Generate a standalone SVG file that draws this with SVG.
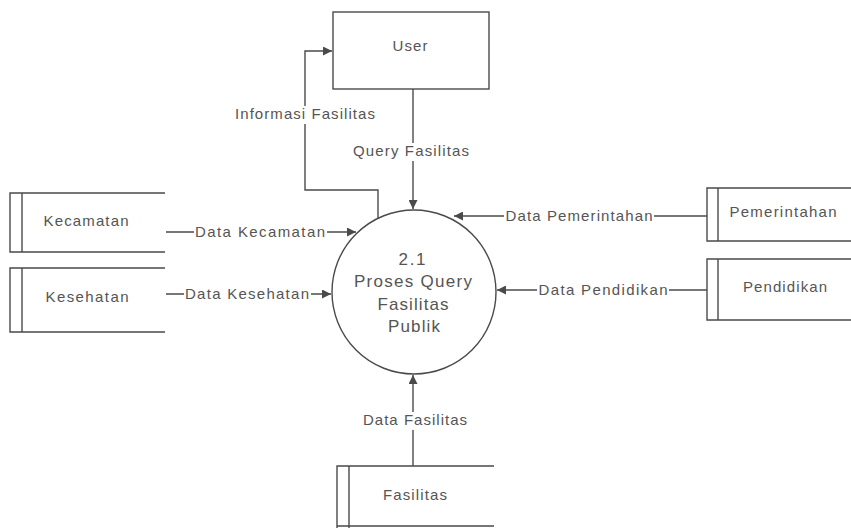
<svg xmlns="http://www.w3.org/2000/svg" width="851" height="528" viewBox="0 0 851 528">
  <defs>
    <style>
      .ln { stroke: #4a4a4a; stroke-width: 1.4; fill: none; }
      .box { stroke: #4a4a4a; stroke-width: 1.4; fill: #fff; }
      .t { font-family: "Liberation Sans", Arial, sans-serif; font-size: 15px; fill: #555; text-anchor: middle; dominant-baseline: middle; }
      .tp { font-family: "Liberation Sans", Arial, sans-serif; font-size: 17px; fill: #555; text-anchor: middle; dominant-baseline: middle; }
      .lbl { font-family: "Liberation Sans", Arial, sans-serif; font-size: 15px; fill: #555; text-anchor: middle; dominant-baseline: middle; }
    </style>
    <marker id="arr" viewBox="0 0 10 10" refX="10" refY="5" markerWidth="9" markerHeight="9" markerUnits="userSpaceOnUse" orient="auto">
      <path d="M0,0 L10,5 L0,10 z" fill="#4a4a4a"/>
    </marker>
  </defs>

  <rect width="851" height="528" fill="#fff"/>

  <!-- connectors -->
  <g id="connectors">
    <!-- Informasi Fasilitas: process -> User -->
    <path class="ln" d="M378,218 V190 H305 V51 H332" marker-end="url(#arr)"/>
    <!-- Query Fasilitas: User -> process -->
    <path class="ln" d="M413,89 V209" marker-end="url(#arr)"/>
    <!-- Data Kecamatan -->
    <path class="ln" d="M166,232 H356" marker-end="url(#arr)"/>
    <!-- Data Kesehatan -->
    <path class="ln" d="M166,294 H331" marker-end="url(#arr)"/>
    <!-- Data Pemerintahan -->
    <path class="ln" d="M707,216 H454" marker-end="url(#arr)"/>
    <!-- Data Pendidikan -->
    <path class="ln" d="M707,290 H497" marker-end="url(#arr)"/>
    <!-- Data Fasilitas -->
    <path class="ln" d="M413,466 V375" marker-end="url(#arr)"/>

    <!-- labels on connectors, with white backing to break the lines -->
    <rect x="234" y="106" width="142" height="18" fill="#fff"/>
    <text class="lbl" x="305" y="115" textLength="140" lengthAdjust="spacing">Informasi Fasilitas</text>
    <rect x="352" y="143" width="119" height="18" fill="#fff"/>
    <text class="lbl" x="411" y="152" textLength="116" lengthAdjust="spacing">Query Fasilitas</text>
    <rect x="194" y="224" width="133" height="18" fill="#fff"/>
    <text class="lbl" x="260" y="233" textLength="130" lengthAdjust="spacing">Data Kecamatan</text>
    <rect x="184" y="286" width="127" height="18" fill="#fff"/>
    <text class="lbl" x="247" y="295" textLength="124" lengthAdjust="spacing">Data Kesehatan</text>
    <rect x="504" y="208" width="150" height="18" fill="#fff"/>
    <text class="lbl" x="579" y="217" textLength="147" lengthAdjust="spacing">Data Pemerintahan</text>
    <rect x="537" y="282" width="132" height="18" fill="#fff"/>
    <text class="lbl" x="603" y="291" textLength="129" lengthAdjust="spacing">Data Pendidikan</text>
    <rect x="361" y="412" width="108" height="18" fill="#fff"/>
    <text class="lbl" x="415" y="421" textLength="104" lengthAdjust="spacing">Data Fasilitas</text>
  </g>

  <!-- external entity -->
  <g id="user">
    <rect class="box" x="333" y="12" width="156" height="77"/>
    <text class="t" x="410" y="47" textLength="35" lengthAdjust="spacing">User</text>
  </g>

  <!-- process -->
  <g id="proses">
    <circle class="box" cx="414" cy="292" r="82"/>
    <text class="tp" x="412" y="261" textLength="27" lengthAdjust="spacing">2.1</text>
    <text class="tp" x="413" y="283" textLength="118" lengthAdjust="spacing">Proses Query</text>
    <text class="tp" x="413" y="306" textLength="71" lengthAdjust="spacing">Fasilitas</text>
    <text class="tp" x="414" y="328" textLength="52" lengthAdjust="spacing">Publik</text>
  </g>

  <!-- data stores (open on the right) -->
  <g id="kecamatan">
    <path class="ln" d="M165,193 H10 V252 H165 M22,193 V252"/>
    <text class="t" x="86" y="222" textLength="85" lengthAdjust="spacing">Kecamatan</text>
  </g>
  <g id="kesehatan">
    <path class="ln" d="M165,268 H10 V332 H165 M22,268 V332"/>
    <text class="t" x="87" y="298" textLength="83" lengthAdjust="spacing">Kesehatan</text>
  </g>
  <g id="pemerintahan">
    <path class="ln" d="M851,188 H707 V241 H851 M718,188 V241"/>
    <text class="t" x="783" y="213" textLength="107" lengthAdjust="spacing">Pemerintahan</text>
  </g>
  <g id="pendidikan">
    <path class="ln" d="M851,259 H707 V320 H851 M718,259 V320"/>
    <text class="t" x="785" y="288" textLength="84" lengthAdjust="spacing">Pendidikan</text>
  </g>
  <g id="fasilitas">
    <path class="ln" d="M494,466 H337 V528 M349,466 V528 M337,526 H494"/>
    <text class="t" x="415" y="496" textLength="64" lengthAdjust="spacing">Fasilitas</text>
  </g>
</svg>
